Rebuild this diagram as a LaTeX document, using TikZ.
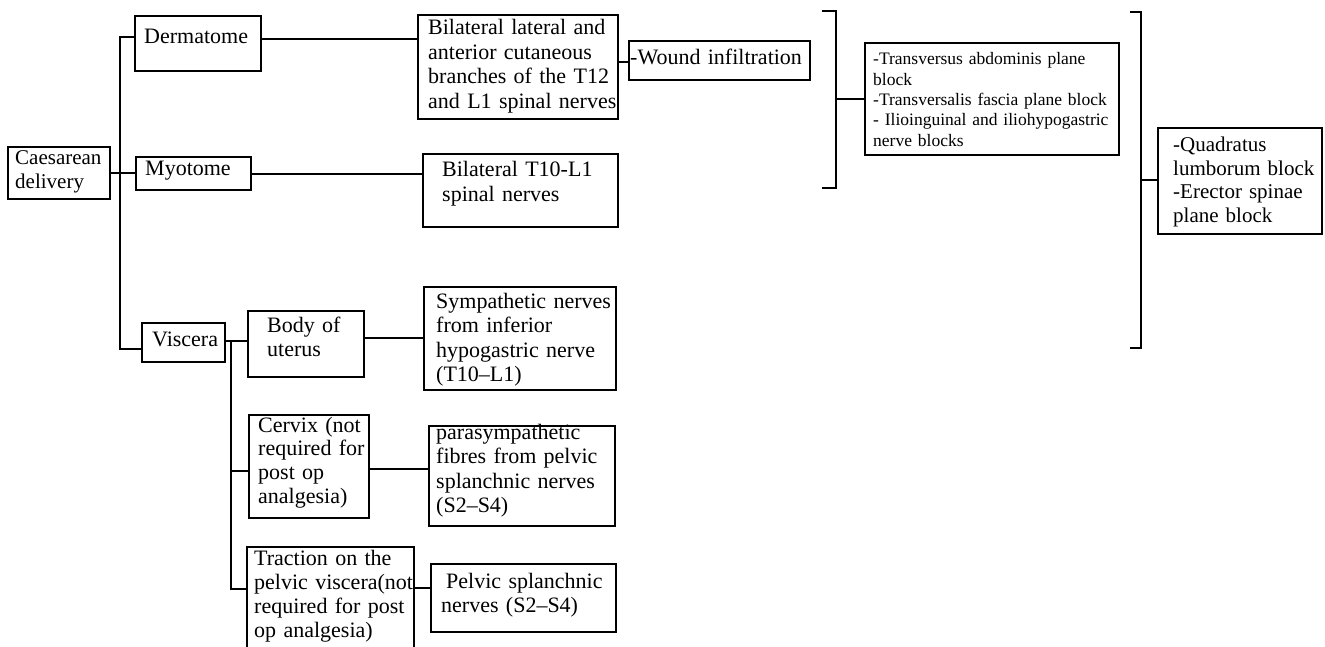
\documentclass[tikz,border=0pt]{standalone}
\usepackage{fontspec}
\setmainfont{Liberation Serif}
\usetikzlibrary{calc}
\begin{document}
\begin{tikzpicture}[x=1pt,y=-1pt,
  box/.style={draw, line width=1.8pt, inner sep=0pt, outer sep=0pt, anchor=north west},
  conn/.style={line width=1.8pt},
  txt/.style={anchor=base west, inner sep=0pt, text width=320pt, align=left, font=\fontsize{22}{24.5}\selectfont},
  txtb/.style={txt, font=\fontsize{21}{23.5}\selectfont},
  txts/.style={txt, font=\fontsize{17.5}{20.3}\selectfont}]
\useasboundingbox (0,0) rectangle (1325,647);
\fill[white] (0,0) rectangle (1325,647);
% boxes
\node[box, minimum width=102pt, minimum height=52pt] (cd) at (8,147) {};
\node[box, minimum width=126pt, minimum height=55pt] (derm) at (135,16) {};
\node[box, minimum width=115pt, minimum height=33pt] (myo) at (136,157) {};
\node[box, minimum width=83pt, minimum height=39pt] (visc) at (142,323) {};
\node[box, minimum width=200pt, minimum height=104pt] (bil1) at (418,15) {};
\node[box, minimum width=195pt, minimum height=73pt] (bil2) at (423,154) {};
\node[box, minimum width=181pt, minimum height=39pt] (wound) at (629,41) {};
\node[box, minimum width=254pt, minimum height=112pt] (tap) at (865,43) {};
\node[box, minimum width=164pt, minimum height=106pt] (ql) at (1158,128) {};
\node[box, minimum width=116pt, minimum height=66pt] (body) at (248,311) {};
\node[box, minimum width=192pt, minimum height=103pt] (symp) at (424,287) {};
\node[box, minimum width=120pt, minimum height=103pt] (cerv) at (249,415) {};
\node[box, minimum width=186pt, minimum height=100pt] (para) at (429,426) {};
\node[box, minimum width=167pt, minimum height=113pt] (trac) at (247,547) {};
\node[box, minimum width=185pt, minimum height=68pt] (pelv) at (431,564) {};
% texts
\node[txtb] (tcd) at (15,165) {Caesarean\\delivery};
\node[txt] (tderm) at (144,44) {Dermatome};
\node[txt] (tmyo) at (145,176) {Myotome};
\node[txt] (tvisc) at (152,346) {Viscera};
\node[txt] (tbil1) at (428,35) {Bilateral lateral and\\anterior cutaneous\\branches of the T12\\and L1 spinal nerves};
\node[txt] (twound) at (630,65) {-Wound infiltration};
\node[txt] (tbil2) at (442,177) {Bilateral T10-L1\\spinal nerves};
\node[txts] (ttap) at (873,65) {-Transversus abdominis plane\\block\\-Transversalis fascia plane block\\- Ilioinguinal and iliohypogastric\\nerve blocks};
\node[txtb] (tql) at (1173,152) {-Quadratus\\lumborum block\\-Erector spinae\\plane block};
\node[txt] (tbody) at (267,332) {Body of\\uterus};
\node[txt] (tsymp) at (436,308) {Sympathetic nerves\\from inferior\\hypogastric nerve\\(T10--L1)};
\node[txt, font=\fontsize{22}{23.8}\selectfont] (tcerv) at (258,432) {Cervix (not\\required for\\post op\\analgesia)};
\node[txt] (tpara) at (436,439) {parasympathetic\\fibres from pelvic\\splanchnic nerves\\(S2--S4)};
\node[txt, font=\fontsize{22}{24}\selectfont] (ttrac) at (254,565) {Traction on the\\pelvic viscera(not\\required for post\\op analgesia)};
\node[txt] (tpelv) at (441,588) {\hspace*{5pt}Pelvic splanchnic\\nerves (S2--S4)};
% connectors
\coordinate (jt) at (120,37);
\coordinate (jb) at (120,349);
\draw[conn] (derm.west |- jt) -- (jt) -- (jb) -- (visc.west |- jb);
\draw[conn] (cd.east) -- (cd.east -| myo.west);
\coordinate (yd) at (0,39);
\draw[conn] (derm.east |- yd) -- (bil1.west |- yd);
\coordinate (yw) at (0,62);
\draw[conn] (bil1.east |- yw) -- (wound.west |- yw);
\coordinate (ym) at (0,174);
\draw[conn] (myo.east |- ym) -- (bil2.west |- ym);
% brackets
\draw[conn] (822,11) -- (836,11) -- (836,188) -- (822,188);
\coordinate (b1) at (836,99);
\draw[conn] (b1) -- (tap.west |- b1);
\draw[conn] (1130,12) -- (1141,12) -- (1141,348) -- (1130,348);
\coordinate (b2) at (1141,180);
\draw[conn] (b2) -- (ql.west |- b2);
% viscera branch
\coordinate (vt) at (231,341);
\coordinate (vb) at (231,589);
\coordinate (vc) at (231,471);
\draw[conn] (visc.east |- vt) -- (body.west |- vt);
\draw[conn] (vt) -- (vb) -- (trac.west |- vb);
\draw[conn] (vc) -- (cerv.west |- vc);
\coordinate (ys) at (0,338);
\draw[conn] (body.east |- ys) -- (symp.west |- ys);
\coordinate (yc) at (0,469);
\draw[conn] (cerv.east |- yc) -- (para.west |- yc);
\coordinate (yp) at (0,588);
\draw[conn] (trac.east |- yp) -- (pelv.west |- yp);
\end{tikzpicture}
\end{document}
